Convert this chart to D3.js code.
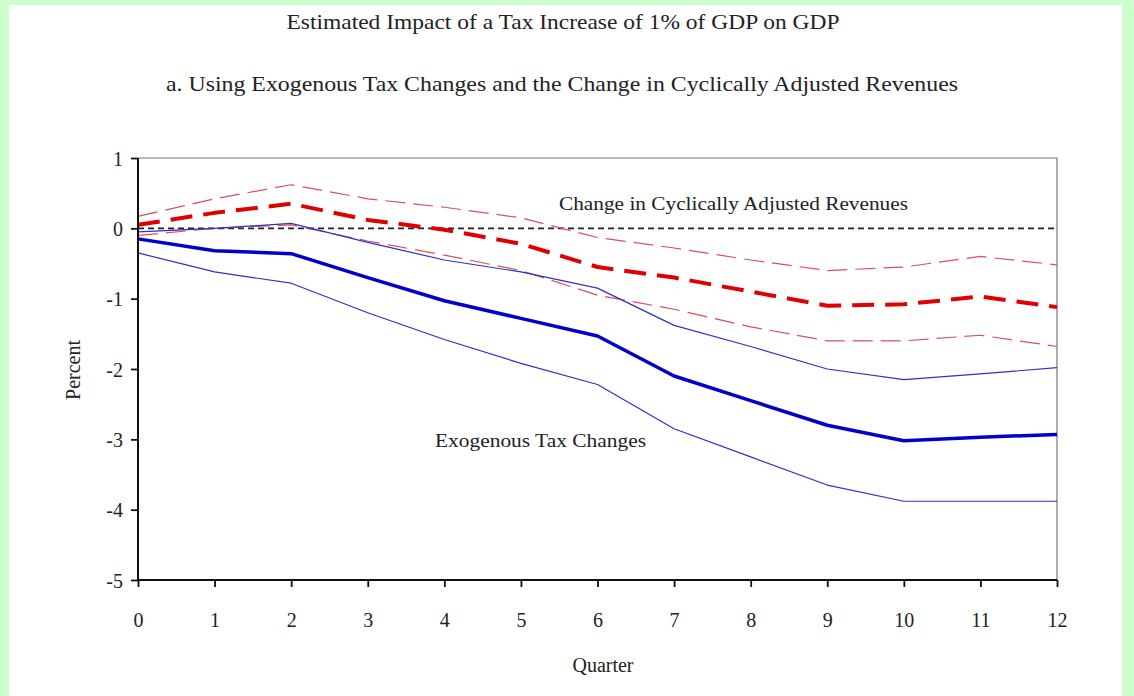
<!DOCTYPE html>
<html>
<head>
<meta charset="utf-8">
<script src="https://cdn.jsdelivr.net/npm/d3@7"></script>
<style>
  html, body { margin: 0; padding: 0; background: #ccffcc; }
  svg { display: block; }
  text { font-family: "Liberation Serif", "Times New Roman", serif; fill: #222; }
</style>
</head>
<body>
<svg id="chart" width="1134" height="696"></svg>
<script>
// Impulse responses of GDP (percent) to a tax increase of 1% of GDP
const quarters = [0, 1, 2, 3, 4, 5, 6, 7, 8, 9, 10, 11, 12];

// Exogenous tax changes: point estimate and one-standard-error band
const exoEstimate = [-0.15, -0.32, -0.36, -0.70, -1.03, -1.28, -1.53, -2.10, -2.45, -2.80, -3.02, -2.97, -2.93];
const exoUpper    = [-0.05, 0.00, 0.07, -0.20, -0.45, -0.62, -0.85, -1.38, -1.68, -2.00, -2.15, -2.07, -1.98];
const exoLower    = [-0.35, -0.62, -0.78, -1.20, -1.58, -1.92, -2.22, -2.85, -3.25, -3.65, -3.88, -3.88, -3.88];

// Change in cyclically adjusted revenues: point estimate and band
const carEstimate = [0.05, 0.22, 0.35, 0.12, -0.02, -0.22, -0.55, -0.70, -0.90, -1.10, -1.08, -0.97, -1.12];
const carUpper    = [0.17, 0.42, 0.62, 0.42, 0.30, 0.15, -0.13, -0.28, -0.45, -0.60, -0.55, -0.40, -0.52];
const carLower    = [-0.10, 0.00, 0.05, -0.18, -0.38, -0.60, -0.95, -1.15, -1.40, -1.60, -1.60, -1.52, -1.68];

const yTicks = [1, 0, -1, -2, -3, -4, -5];
const xTicks = quarters;

const titleText = "Estimated Impact of a Tax Increase of 1% of GDP on GDP";
const subtitleText = "a.  Using Exogenous Tax Changes and the Change in Cyclically Adjusted Revenues";
const carLabel = "Change in Cyclically Adjusted Revenues";
const exoLabel = "Exogenous Tax Changes";

const svg = d3.select("#chart");

// white page inside the green frame
svg.append("rect").attr("x", 9).attr("y", 5).attr("width", 1113).attr("height", 691).attr("fill", "#fff");

const plot = { left: 138, right: 1057, top: 158, bottom: 580 };
const x = d3.scaleLinear().domain([0, 12]).range([plot.left, plot.right]);
const y = d3.scaleLinear().domain([-5, 1]).range([plot.bottom, plot.top]);

// frame top & right
svg.append("path")
  .attr("d", `M${x(0)},${y(1)}H${x(12)}V${y(-5)}`)
  .attr("fill", "none").attr("stroke", "#777").attr("stroke-width", 1.2);

// zero reference line
svg.append("line")
  .attr("x1", x(0)).attr("x2", x(12)).attr("y1", y(0)).attr("y2", y(0))
  .attr("stroke", "#222").attr("stroke-width", 1.6).attr("stroke-dasharray", "6,4");

const line = d3.line().x((d, i) => x(quarters[i])).y(d => y(d));

function drawSeries(values, color, width, dash) {
  svg.append("path")
    .datum(values)
    .attr("d", line)
    .attr("fill", "none")
    .attr("stroke", color)
    .attr("stroke-width", width)
    .attr("stroke-linejoin", "round")
    .attr("stroke-dasharray", dash || null);
}

drawSeries(carUpper, "#d9505a", 1.2, "20,8");
drawSeries(carLower, "#d9505a", 1.2, "20,8");
drawSeries(exoUpper, "#3030c8", 1.2);
drawSeries(exoLower, "#3030c8", 1.2);
drawSeries(carEstimate, "#e00000", 4, "22,11");
drawSeries(exoEstimate, "#0000cc", 3.5);

// axes (plain hyphen for negative numbers)
const fmt = d => String(d);
const yAxis = d3.axisLeft(y).tickValues(yTicks).tickSize(7).tickPadding(8).tickFormat(fmt);
const xAxis = d3.axisBottom(x).tickValues(xTicks).tickSize(7).tickPadding(26).tickFormat(fmt);

const gy = svg.append("g").attr("transform", `translate(${plot.left},0)`).call(yAxis);
const gx = svg.append("g").attr("transform", `translate(0,${plot.bottom})`).call(xAxis);
[gy, gx].forEach(g => {
  g.select(".domain").attr("stroke", "#111").attr("stroke-width", 2);
  g.selectAll(".tick line").attr("stroke", "#111").attr("stroke-width", 1.8);
  g.selectAll(".tick text").attr("font-size", 20).attr("fill", "#222")
    .style("font-family", "'Liberation Serif', serif");
});
gy.select(".domain").attr("d", `M-0,${plot.top}V${plot.bottom}`);
gx.select(".domain").attr("d", `M${plot.left},0H${plot.right}`);
gy.selectAll(".tick text").attr("dy", "0.36em");

// titles
svg.append("text").attr("x", 563).attr("y", 29).attr("text-anchor", "middle")
  .attr("font-size", 21).attr("lengthAdjust", "spacingAndGlyphs").attr("textLength", 553).text(titleText);
svg.append("text").attr("x", 562).attr("y", 91).attr("text-anchor", "middle")
  .attr("font-size", 21).attr("lengthAdjust", "spacingAndGlyphs").attr("textLength", 792).text(subtitleText);

// in-plot labels
svg.append("text").attr("x", 559).attr("y", 210).attr("font-size", 18)
  .attr("lengthAdjust", "spacingAndGlyphs").attr("textLength", 349).text(carLabel);
svg.append("text").attr("x", 435).attr("y", 447).attr("font-size", 18)
  .attr("lengthAdjust", "spacingAndGlyphs").attr("textLength", 211).text(exoLabel);

// axis titles
svg.append("text").attr("x", 603).attr("y", 672).attr("text-anchor", "middle")
  .attr("font-size", 20).text("Quarter");
svg.append("text").attr("transform", "translate(80,370) rotate(-90)").attr("text-anchor", "middle")
  .attr("font-size", 20).text("Percent");
</script>
</body>
</html>
